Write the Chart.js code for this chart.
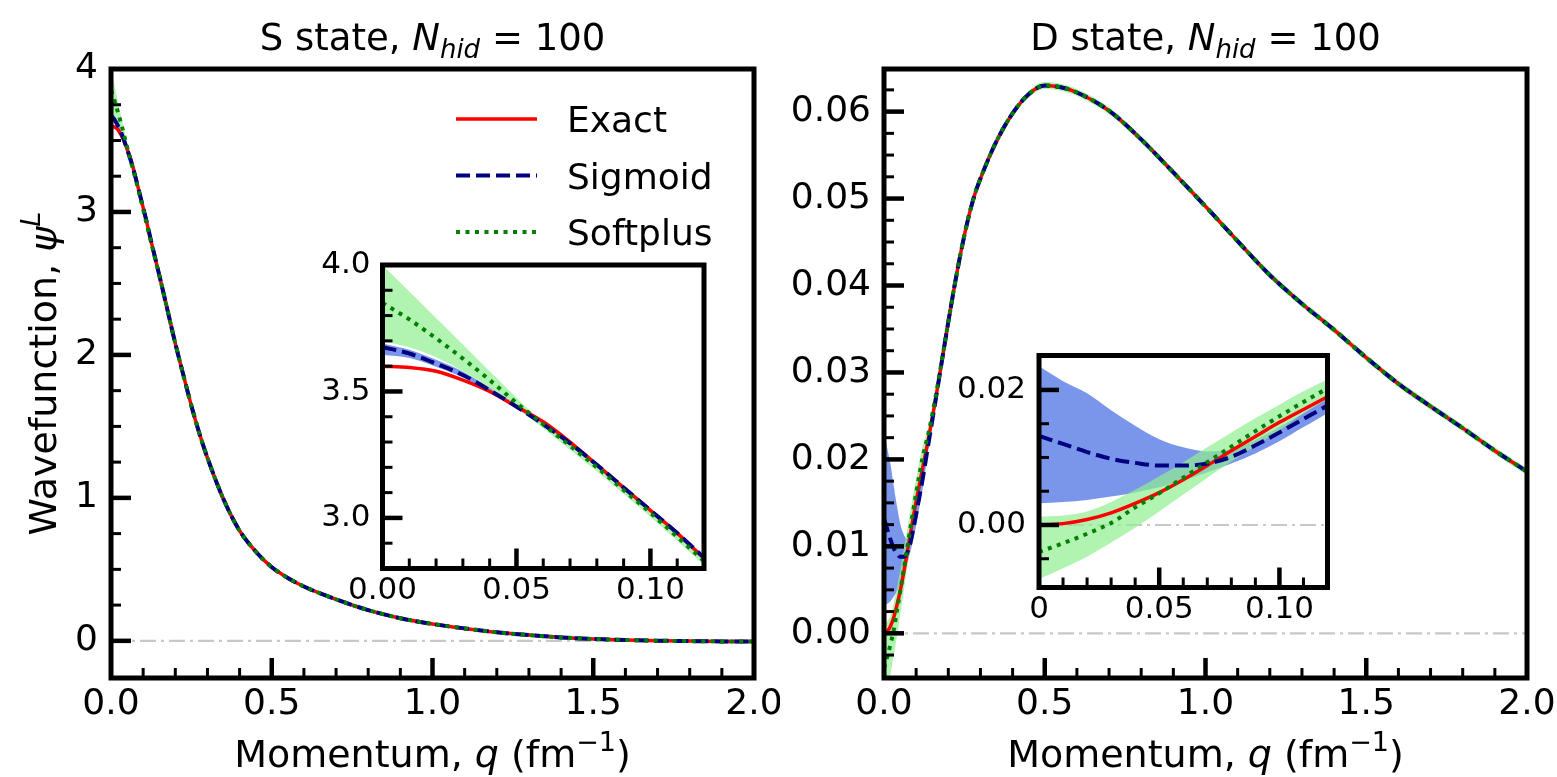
<!DOCTYPE html>
<html>
<head>
<meta charset="utf-8">
<script src="https://cdn.jsdelivr.net/npm/chart.js@4/dist/chart.umd.min.js"></script>
<style>
  html, body { margin: 0; padding: 0; background: #fff; }
  #fig { position: relative; width: 1557px; height: 777px; overflow: hidden; }
  canvas { position: absolute; }
</style>
</head>
<body>
<div id="fig">
  <canvas id="sMain" width="780" height="777" style="left:0;top:0"></canvas>
  <canvas id="dMain" width="777" height="777" style="left:780px;top:0"></canvas>
  <canvas id="sInset" width="420" height="370" style="left:300px;top:250px"></canvas>
  <canvas id="dInset" width="405" height="300" style="left:945px;top:335px"></canvas>
</div>
<script>
const FONT = "'DejaVu Sans', sans-serif"
Chart.defaults.font.family = FONT
Chart.defaults.color = "#000"

const seriesNames = ["Exact", "Sigmoid", "Softplus"]

// ---- S state ----
const qS = [0, 0.01, 0.02, 0.03, 0.04, 0.05, 0.06, 0.07, 0.08, 0.09, 0.10, 0.11, 0.12, 0.13,
  0.15, 0.175, 0.2, 0.225, 0.25, 0.275, 0.3, 0.35, 0.4, 0.45, 0.5, 0.55, 0.6, 0.7, 0.8, 0.9,
  1.0, 1.1, 1.2, 1.3, 1.4, 1.5, 1.6, 1.7, 1.8, 1.9, 2.0]
const exactS = [3.600, 3.595, 3.580, 3.545, 3.500, 3.440, 3.380, 3.300, 3.210, 3.120, 3.030, 2.940, 2.840, 2.745,
  2.56, 2.32, 2.08, 1.86, 1.645, 1.45, 1.28, 0.99, 0.77, 0.625, 0.515, 0.44, 0.38, 0.29, 0.215, 0.158,
  0.118, 0.087, 0.060, 0.040, 0.024, 0.013, 0.006, 0.001, -0.002, -0.004, -0.005]
const sigmoidS = [3.675, 3.650, 3.610, 3.565, 3.505, 3.440, 3.370, 3.295, 3.210, 3.120, 3.030, 2.940, 2.843, 2.747,
  2.56, 2.32, 2.08, 1.86, 1.645, 1.45, 1.28, 0.99, 0.77, 0.625, 0.515, 0.44, 0.38, 0.29, 0.215, 0.158,
  0.118, 0.087, 0.060, 0.040, 0.024, 0.013, 0.006, 0.001, -0.002, -0.004, -0.005]
const softplusS = [3.850, 3.785, 3.710, 3.630, 3.545, 3.455, 3.370, 3.285, 3.200, 3.110, 3.020, 2.925, 2.830, 2.740,
  2.56, 2.32, 2.08, 1.86, 1.645, 1.45, 1.28, 0.99, 0.77, 0.625, 0.515, 0.44, 0.38, 0.29, 0.215, 0.158,
  0.118, 0.087, 0.060, 0.040, 0.024, 0.013, 0.006, 0.001, -0.002, -0.004, -0.005]
// uncertainty bands, only where they are wider than the line
const qBandS = [0, 0.01, 0.02, 0.03, 0.04, 0.05, 0.06, 0.07, 0.08, 0.09, 0.10, 0.11, 0.12, 0.13, 0.15]
const sigmoidHiS = [3.690, 3.665, 3.625, 3.578, 3.515, 3.449, 3.377, 3.301, 3.215, 3.124, 3.034, 2.944, 2.847, 2.750, 2.563]
const sigmoidLoS = [3.645, 3.632, 3.598, 3.555, 3.497, 3.433, 3.364, 3.290, 3.205, 3.116, 3.026, 2.936, 2.839, 2.744, 2.557]
const softplusHiS = [4.000, 3.895, 3.790, 3.685, 3.580, 3.475, 3.375, 3.295, 3.210, 3.120, 3.030, 2.935, 2.840, 2.748, 2.563]
const softplusLoS = [3.700, 3.675, 3.635, 3.580, 3.515, 3.435, 3.355, 3.270, 3.185, 3.095, 3.005, 2.910, 2.815, 2.730, 2.555]

// ---- D state ----
const qD = [0, 0.01, 0.02, 0.03, 0.04, 0.05, 0.06, 0.07, 0.08, 0.09, 0.10, 0.11, 0.12, 0.14, 0.16, 0.18,
  0.2, 0.22, 0.24, 0.26, 0.28, 0.3, 0.35, 0.4, 0.45, 0.5, 0.55, 0.6, 0.7, 0.8, 0.9,
  1.0, 1.1, 1.2, 1.3, 1.4, 1.5, 1.6, 1.7, 1.8, 1.9, 2.0]
const exactD = [0.0000, 0.0002, 0.0008, 0.0018, 0.0032, 0.0048, 0.0067, 0.0088, 0.0110, 0.0131, 0.0152, 0.0171, 0.0190,
  0.0227, 0.0268, 0.0313, 0.0358, 0.0401, 0.0440, 0.0474, 0.0502, 0.0523, 0.0566, 0.0598, 0.0620, 0.0630, 0.0628,
  0.0622, 0.0601, 0.0568, 0.0530, 0.0491, 0.0451, 0.0412, 0.0379, 0.0349, 0.0317, 0.0287, 0.0261, 0.0236, 0.0210, 0.0186]
const sigmoidD = [0.0132, 0.0120, 0.0108, 0.0098, 0.0092, 0.0088, 0.0088, 0.0091, 0.0101, 0.0118, 0.0137, 0.0157, 0.0177,
  0.0222, 0.0267, 0.0313, 0.0358, 0.0401, 0.0440, 0.0474, 0.0502, 0.0523, 0.0566, 0.0598, 0.0620, 0.0630, 0.0628,
  0.0622, 0.0601, 0.0568, 0.0530, 0.0491, 0.0451, 0.0412, 0.0379, 0.0349, 0.0317, 0.0287, 0.0261, 0.0236, 0.0210, 0.0186]
const softplusD = [-0.0040, -0.0027, -0.0013, 0.0003, 0.0026, 0.0047, 0.0070, 0.0093, 0.0116, 0.0139, 0.0161, 0.0182, 0.0202,
  0.0233, 0.0271, 0.0314, 0.0358, 0.0401, 0.0440, 0.0474, 0.0502, 0.0523, 0.0566, 0.0598, 0.0620, 0.0630, 0.0628,
  0.0622, 0.0601, 0.0568, 0.0530, 0.0491, 0.0451, 0.0412, 0.0379, 0.0349, 0.0317, 0.0287, 0.0261, 0.0236, 0.0210, 0.0186]
const qBandSigD = [0, 0.01, 0.02, 0.03, 0.04, 0.05, 0.06, 0.07, 0.08, 0.09, 0.10, 0.11, 0.12, 0.14, 0.16]
const sigmoidHiD = [0.0235, 0.0213, 0.0195, 0.0170, 0.0147, 0.0127, 0.0115, 0.0109, 0.0112, 0.0126, 0.0145, 0.0166, 0.0187, 0.0227, 0.0269]
const sigmoidLoD = [0.0032, 0.0034, 0.0037, 0.0042, 0.0048, 0.0056, 0.0066, 0.0078, 0.0091, 0.0106, 0.0124, 0.0145, 0.0166, 0.0217, 0.0265]
const softplusHiD = [0.0012, 0.0014, 0.0020, 0.0034, 0.0052, 0.0072, 0.0093, 0.0115, 0.0137, 0.0158, 0.0178, 0.0198, 0.0215,
  0.0240, 0.0276, 0.0317, 0.0362, 0.0405, 0.0444, 0.0478, 0.0506, 0.0527, 0.0570, 0.0602, 0.0624, 0.0634, 0.0632,
  0.0626, 0.0605, 0.0572, 0.0534, 0.0495, 0.0455, 0.0416, 0.0383, 0.0353, 0.0321, 0.0291, 0.0265, 0.0240, 0.0214, 0.0190]
const softplusLoD = [-0.0080, -0.0064, -0.0047, -0.0026, -0.0004, 0.0020, 0.0045, 0.0070, 0.0094, 0.0117, 0.0140, 0.0165, 0.0187,
  0.0224, 0.0264, 0.0309, 0.0354, 0.0397, 0.0436, 0.0470, 0.0498, 0.0519, 0.0562, 0.0594, 0.0616, 0.0626, 0.0624,
  0.0618, 0.0597, 0.0564, 0.0526, 0.0487, 0.0447, 0.0408, 0.0375, 0.0345, 0.0313, 0.0283, 0.0257, 0.0232, 0.0206, 0.0182]

// ---- ticks ----
const mainXTicks = [0, 0.5, 1.0, 1.5, 2.0]
const mainXLabels = ["0.0", "0.5", "1.0", "1.5", "2.0"]
const sMainYTicks = [0, 1, 2, 3, 4]
const sMainYLabels = ["0", "1", "2", "3", "4"]
const dMainYTicks = [0, 0.01, 0.02, 0.03, 0.04, 0.05, 0.06]
const dMainYLabels = ["0.00", "0.01", "0.02", "0.03", "0.04", "0.05", "0.06"]
const insetXTicks = [0, 0.05, 0.10]
const sInsetXLabels = ["0.00", "0.05", "0.10"]
const dInsetXLabels = ["0", "0.05", "0.10"]
const sInsetYTicks = [3.0, 3.5, 4.0]
const sInsetYLabels = ["3.0", "3.5", "4.0"]
const dInsetYTicks = [0, 0.02]
const dInsetYLabels = ["0.00", "0.02"]

const titleS = [{ t: "S state, " }, { t: "N", it: true }, { t: "hid", it: true, sub: true }, { t: " = 100" }]
const titleD = [{ t: "D state, " }, { t: "N", it: true }, { t: "hid", it: true, sub: true }, { t: " = 100" }]
const xLabel = [{ t: "Momentum, " }, { t: "q", it: true }, { t: " (fm" }, { t: "\u22121", sup: true }, { t: ")" }]
const yLabel = [{ t: "Wavefunction, " }, { t: "\u03c8", it: true }, { t: "L", it: true, sup: true }]

const styles = {
  exact: { color: "#ff0000", width: 3.5, dash: [] },
  sigmoid: { color: "#000080", width: 4, dash: [14, 6] },
  softplus: { color: "#008000", width: 4, dash: [4, 5.5] }
}
const sigmoidBand = "rgba(65, 105, 225, 0.7)"
const softplusBand = "rgba(144, 238, 144, 0.7)"

const pts = (xs, ys) => ys.map((y, i) => ({ x: xs[i], y }))

function line(label, xs, ys, st) {
  return {
    label, data: pts(xs, ys), borderColor: st.color, borderWidth: st.width, borderDash: st.dash,
    borderCapStyle: "butt", pointRadius: 0, fill: false, cubicInterpolationMode: "monotone"
  }
}

function band(xs, ys, color, fill) {
  return {
    label: "", data: pts(xs, ys), borderColor: "rgba(0,0,0,0)", borderWidth: 0, pointRadius: 0,
    backgroundColor: color, fill, cubicInterpolationMode: "monotone"
  }
}

// dataset 0 is painted last, so the lines come first and the bands after
function sDatasets() {
  return [
    line(seriesNames[2], qS, softplusS, styles.softplus),
    line(seriesNames[1], qS, sigmoidS, styles.sigmoid),
    line(seriesNames[0], qS, exactS, styles.exact),
    band(qBandS, softplusHiS, softplusBand, "+1"),
    band(qBandS, softplusLoS, softplusBand, false),
    band(qBandS, sigmoidHiS, sigmoidBand, "+1"),
    band(qBandS, sigmoidLoS, sigmoidBand, false)
  ]
}

function dDatasets() {
  return [
    line(seriesNames[2], qD, softplusD, styles.softplus),
    line(seriesNames[1], qD, sigmoidD, styles.sigmoid),
    line(seriesNames[0], qD, exactD, styles.exact),
    band(qD, softplusHiD, softplusBand, "+1"),
    band(qD, softplusLoD, softplusBand, false),
    band(qBandSigD, sigmoidHiD, sigmoidBand, "+1"),
    band(qBandSigD, sigmoidLoD, sigmoidBand, false)
  ]
}

function drawRich(ctx, parts, x, y, size) {
  const fontOf = (p) => `${p.it ? "italic " : ""}${Math.round(size * (p.sub || p.sup ? 0.7 : 1))}px ${FONT}`
  let total = 0
  const widths = parts.map((p) => {
    ctx.font = fontOf(p)
    const w = ctx.measureText(p.t).width
    total += w
    return w
  })
  let cx = x - total / 2
  ctx.textAlign = "left"
  ctx.textBaseline = "alphabetic"
  ctx.fillStyle = "#000"
  parts.forEach((p, i) => {
    ctx.font = fontOf(p)
    const dy = p.sub ? size * 0.22 : p.sup ? -size * 0.42 : 0
    ctx.fillText(p.t, cx, y + dy)
    cx += widths[i]
  })
}

function minorValues(min, max, step, major) {
  const out = []
  for (let k = Math.ceil(min / step - 1e-6); k * step <= max + 1e-9; k++) {
    const v = +(k * step).toFixed(6)
    if (major.some((m) => Math.abs(m - v) < step / 10)) continue
    out.push(v)
  }
  return out
}

const decorSpecs = {}

const decor = {
  id: "decor",
  beforeDraw(chart) {
    const d = decorSpecs[chart.canvas.id]
    if (!d.whiteArea) return
    const { ctx, chartArea: a } = chart
    ctx.save()
    ctx.fillStyle = "#fff"
    ctx.fillRect(a.left, a.top, a.right - a.left, a.bottom - a.top)
    ctx.restore()
  },
  beforeDatasetsDraw(chart) {
    const d = decorSpecs[chart.canvas.id]
    if (!d.zeroLine) return
    const { ctx, chartArea: a, scales: { y } } = chart
    const py = y.getPixelForValue(0)
    ctx.save()
    ctx.strokeStyle = "#c8c8c8"
    ctx.lineWidth = 2.2
    ctx.setLineDash([16, 5, 3, 5])
    ctx.beginPath()
    ctx.moveTo(a.left, py)
    ctx.lineTo(a.right, py)
    ctx.stroke()
    ctx.restore()
  },
  afterDatasetsDraw(chart) {
    const d = decorSpecs[chart.canvas.id]
    const { ctx, chartArea: a, scales: { x, y } } = chart
    ctx.save()
    ctx.strokeStyle = "#000"
    ctx.lineCap = "butt"

    const xTick = (v, len, w) => {
      const px = x.getPixelForValue(v)
      if (px < a.left + 3 || px > a.right - 3) return
      ctx.lineWidth = w
      ctx.beginPath(); ctx.moveTo(px, a.bottom); ctx.lineTo(px, a.bottom - len); ctx.stroke()
    }
    const yTick = (v, len, w) => {
      const py = y.getPixelForValue(v)
      if (py < a.top + 3 || py > a.bottom - 3) return
      ctx.lineWidth = w
      ctx.beginPath(); ctx.moveTo(a.left, py); ctx.lineTo(a.left + len, py); ctx.stroke()
    }
    minorValues(x.min, x.max, d.x.minor, d.x.ticks).forEach((v) => xTick(v, 10, 3))
    minorValues(y.min, y.max, d.y.minor, d.y.ticks).forEach((v) => yTick(v, 10, 3))
    d.x.ticks.forEach((v) => xTick(v, 20, 4.5))
    d.y.ticks.forEach((v) => yTick(v, 20, 4.5))

    ctx.lineWidth = 5
    ctx.strokeRect(a.left, a.top, a.right - a.left, a.bottom - a.top)

    if (d.legend) {
      const rows = [2, 1, 0].map((i) => chart.data.datasets[i])
      rows.forEach((ds, r) => {
        const ry = d.legend.y + r * d.legend.gap
        ctx.save()
        ctx.strokeStyle = ds.borderColor
        ctx.lineWidth = ds.borderWidth
        ctx.setLineDash(ds.borderDash)
        ctx.beginPath(); ctx.moveTo(d.legend.x, ry); ctx.lineTo(d.legend.x + 81, ry); ctx.stroke()
        ctx.restore()
        ctx.fillStyle = "#000"
        ctx.font = `36px ${FONT}`
        ctx.textAlign = "left"
        ctx.textBaseline = "alphabetic"
        ctx.fillText(ds.label, d.legend.x + 111, ry + 13)
      })
    }
    ctx.restore()
  },
  afterDraw(chart) {
    const d = decorSpecs[chart.canvas.id]
    const { ctx, chartArea: a } = chart
    ctx.save()
    const cx = (a.left + a.right) / 2
    if (d.title) drawRich(ctx, d.title, cx, 50, 37)
    if (d.xLabel) drawRich(ctx, d.xLabel, cx, 767, 38)
    if (d.yLabel) {
      ctx.translate(56, (a.top + a.bottom) / 2)
      ctx.rotate(-Math.PI / 2)
      drawRich(ctx, d.yLabel, 0, 0, 38)
    }
    ctx.restore()
  }
}

function makeChart(id, spec) {
  const canvas = document.getElementById(id)
  const W = canvas.width
  const H = canvas.height
  const a = spec.area
  decorSpecs[id] = spec

  const axis = (ax, isX) => ({
    type: "linear",
    min: ax.min,
    max: ax.max,
    bounds: "data",
    grid: { display: false, drawTicks: false },
    border: { display: false },
    ticks: {
      autoSkip: false, maxRotation: 0, minRotation: 0, padding: ax.pad, color: "#000",
      font: { family: FONT, size: spec.tickSize },
      callback: (v, i) => ax.labels[i]
    },
    afterBuildTicks: (s) => { s.ticks = ax.ticks.map((v) => ({ value: v })) },
    afterFit: (s) => {
      if (isX) { s.height = spec.xh; s.paddingLeft = 0; s.paddingRight = 0 }
      else { s.width = spec.yw; s.paddingTop = 0; s.paddingBottom = 0 }
    }
  })

  return new Chart(canvas, {
    type: "line",
    data: { datasets: spec.datasets },
    options: {
      responsive: false,
      animation: false,
      devicePixelRatio: 1,
      events: [],
      layout: { padding: { left: a.left - spec.yw, top: a.top, right: W - a.right, bottom: H - a.bottom - spec.xh } },
      scales: { x: axis(spec.x, true), y: axis(spec.y, false) },
      plugins: { legend: { display: false }, title: { display: false }, tooltip: { enabled: false } }
    },
    plugins: [decor]
  })
}

makeChart("sMain", {
  area: { left: 111, top: 69, right: 754, bottom: 678 }, yw: 100, xh: 60, tickSize: 36,
  x: { min: 0, max: 2, ticks: mainXTicks, labels: mainXLabels, minor: 0.1, pad: 5 },
  y: { min: -0.26, max: 4.0, ticks: sMainYTicks, labels: sMainYLabels, minor: 0.25, pad: 13 },
  datasets: sDatasets(), zeroLine: true, title: titleS, xLabel, yLabel,
  legend: { x: 456, y: 119, gap: 56.5 }
})

makeChart("dMain", {
  area: { left: 104, top: 69, right: 747, bottom: 678 }, yw: 100, xh: 60, tickSize: 36,
  x: { min: 0, max: 2, ticks: mainXTicks, labels: mainXLabels, minor: 0.1, pad: 5 },
  y: { min: -0.00514, max: 0.0649, ticks: dMainYTicks, labels: dMainYLabels, minor: 0.0025, pad: 13 },
  datasets: dDatasets(), zeroLine: true, title: titleD, xLabel
})

makeChart("sInset", {
  area: { left: 82.5, top: 15, right: 404, bottom: 318.5 }, yw: 75, xh: 40, tickSize: 31,
  x: { min: 0, max: 0.12, ticks: insetXTicks, labels: sInsetXLabels, minor: 0.01, pad: 4 },
  y: { min: 2.8, max: 4.0, ticks: sInsetYTicks, labels: sInsetYLabels, minor: 0.1, pad: 12 },
  datasets: sDatasets(), whiteArea: true
})

makeChart("dInset", {
  area: { left: 94, top: 20.5, right: 382.5, bottom: 252.5 }, yw: 90, xh: 40, tickSize: 31,
  x: { min: 0, max: 0.12, ticks: insetXTicks, labels: dInsetXLabels, minor: 0.01, pad: 4 },
  y: { min: -0.00926, max: 0.0251, ticks: dInsetYTicks, labels: dInsetYLabels, minor: 0.005, pad: 13 },
  datasets: dDatasets(), whiteArea: true, zeroLine: true
})
</script>
</body>
</html>
